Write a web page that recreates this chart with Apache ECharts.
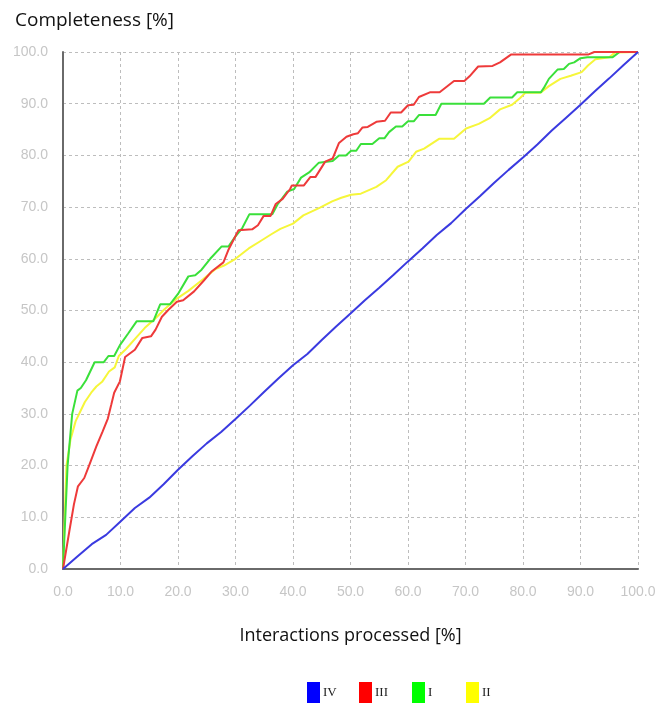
<!DOCTYPE html>
<html>
<head>
<meta charset="utf-8">
<script src="https://cdn.jsdelivr.net/npm/echarts@6/dist/echarts.min.js"></script>
<style>
  html, body { margin: 0; padding: 0; background: #ffffff; }
  #chart { width: 662px; height: 714px; }
</style>
</head>
<body>
<div id="chart"></div>
<script>
// Completeness curves: [interactions processed %, completeness %]
const seriesNames = ['IV', 'III', 'I', 'II'];
const seriesColors = ['#3a3ae0', '#ee3a3a', '#3ae03a', '#f6f63a'];
const legendColors = ['#0000ff', '#ff0000', '#00ff00', '#ffff00'];
const legendLefts = [307, 359, 412, 466];

const curveIV = [
  [0,0],[2.5,2.4],[5,4.8],[7.5,6.6],[10,9.2],[12.5,11.8],[15,13.8],[17.5,16.4],
  [20,19.2],[22.5,21.8],[25,24.3],[27.5,26.5],[30,29],[32.5,31.6],[35,34.3],
  [37.5,36.9],[40,39.4],[42.5,41.6],[45,44.3],[47.5,46.9],[50,49.4],[52.5,52],
  [55,54.4],[57.5,56.9],[60,59.5],[62.5,62],[65,64.6],[67.5,66.9],[70,69.6],
  [72.5,72.1],[75,74.7],[77.5,77.2],[80,79.6],[82.5,82.1],[85,84.8],[87.5,87.3],
  [90,89.8],[92.5,92.4],[95,94.9],[97.5,97.5],[100,100]
];

const curveIII = [
  [0,0],[1.1,7.3],[1.9,12.5],[2.6,16],[3.7,17.6],[4.6,20.2],[5.8,23.7],[6.9,26.6],
  [7.8,29.1],[8.4,31.8],[8.9,34.1],[9.9,36.3],[10.8,41],[12.5,42.4],[13.8,44.7],
  [15.3,45],[16.1,46.3],[17.2,48.8],[18.3,50.1],[19.8,51.7],[20.9,52],[22.8,53.7],
  [24.5,55.8],[25.9,57.6],[27.9,59.3],[28.8,61.8],[30.5,65.5],[32.9,65.7],[33.9,66.5],
  [34.9,68.3],[36.1,68.3],[37,70.6],[38.2,71.6],[39.5,73.5],[39.8,74.2],[41.9,74.2],
  [43,75.8],[43.9,75.8],[45.6,78.8],[46.9,79.4],[48,82.4],[49.3,83.6],[50.5,84.1],
  [51.3,84.3],[52.1,85.4],[53,85.5],[54.5,86.5],[56,86.7],[57,88.3],[58.8,88.3],
  [60,89.7],[61,89.8],[61.9,91.3],[63.8,92.2],[65.5,92.2],[68,94.4],[69.8,94.4],
  [70.7,95.3],[72.2,97.2],[74.7,97.3],[76,98],[77.9,99.5],[91.3,99.5],[92.4,100],[100,100]
];

const curveI = [
  [0,0],[0.4,10],[0.8,20],[1.6,30],[2.5,34.5],[3.1,35],[4,36.5],[5.5,40],[7.1,40],
  [7.9,41.2],[8.9,41.2],[9.9,43.3],[11.3,45.5],[12.8,47.9],[15.7,47.9],[16.9,51.2],
  [18.6,51.2],[20,53.2],[21.8,56.6],[23,56.8],[24.1,57.9],[25.6,60],[27.6,62.4],
  [28.8,62.4],[29.9,64.2],[31.2,66],[32.4,68.6],[36.4,68.6],[37.3,70.5],[39,73],
  [40.2,73.5],[41.4,75.7],[42.8,76.7],[44.5,78.6],[46.9,78.9],[48,80],[49.2,80],
  [50.1,80.9],[51,80.9],[51.8,82.2],[53.8,82.2],[55,83.3],[55.9,83.3],[56.7,84.5],
  [57.9,85.6],[59,85.6],[60,86.6],[61,86.6],[61.9,87.8],[64.8,87.8],[65.8,90],
  [73.2,90],[74.3,91.2],[78.1,91.2],[79,92.2],[83.1,92.2],[83.6,93],[84.5,94.8],
  [86,96.6],[87.1,96.7],[88,97.7],[88.9,98],[90,98.8],[91.2,99],[95.6,99],[96.8,100],[100,100]
];

const curveII = [
  [0,0],[0.3,10],[0.6,20],[1.3,25],[2.2,28.6],[3.8,32.3],[4.9,34.1],[5.8,35.3],
  [6.8,36.2],[8,38.2],[9,39],[9.7,41.2],[11,42.6],[12.6,44.6],[14.2,46.6],[16,48.4],
  [17.7,50.3],[19.8,52.3],[21.8,53.8],[24.3,56],[26.5,58],[28,58.7],[30,60],
  [32.3,62],[34.3,63.4],[36.3,64.8],[37.8,65.8],[40,66.8],[41.8,68.4],[44.7,69.9],
  [46.8,71.1],[48.4,71.8],[50.1,72.4],[51.8,72.6],[54.5,73.9],[56.2,75.2],[58.2,77.8],
  [60.1,78.8],[61.4,80.7],[62.8,81.3],[65.4,83.2],[68,83.2],[70.1,85.2],[72.3,86.1],
  [74.2,87.2],[76,88.9],[78.1,89.8],[79.5,91.1],[80.4,92.1],[83,92.1],[84.5,93.4],
  [86.5,94.8],[88.3,95.4],[90.2,96.1],[91.3,97.4],[92.6,98.6],[95,99],[96,99.9],[100,100]
];

const curves = [curveIV, curveIII, curveI, curveII];

const chart = echarts.init(document.getElementById('chart'), null, { renderer: 'canvas' });

const axisLabelStyle = {
  color: '#c6c6c6',
  fontFamily: 'Liberation Sans',
  fontSize: 14,
  formatter: v => v.toFixed(1)
};
const gridLineStyle = { color: '#bdbdbd', width: 1, type: [3, 3] };

// one legend block per series so the swatches sit at fixed spacing
const legends = seriesNames.map((n, i) => ({
  data: [{ name: n, itemStyle: { color: legendColors[i] } }],
  left: legendLefts[i],
  top: 682,
  padding: 0,
  itemWidth: 13,
  itemHeight: 21,
  icon: 'rect',
  textStyle: { fontFamily: 'Liberation Serif', fontSize: 13, color: '#222', padding: [2, 0, 0, -2] }
}));

chart.setOption({
  animation: false,
  backgroundColor: '#ffffff',
  title: {
    text: 'Completeness [%]',
    left: 10,
    top: 6,
    textStyle: { fontFamily: 'Open Sans', fontWeight: 'normal', fontSize: 19, color: '#111' }
  },
  legend: legends,
  grid: { left: 63, right: 24, top: 52, bottom: 145 },
  xAxis: {
    type: 'value',
    min: 0, max: 100, interval: 10,
    name: 'Interactions processed [%]',
    nameLocation: 'middle',
    nameGap: 58,
    nameTextStyle: { fontFamily: 'Open Sans', fontSize: 18, color: '#111' },
    axisLine: { show: true, onZero: false, lineStyle: { color: '#6a6a6a', width: 2 } },
    axisTick: { show: false },
    axisLabel: Object.assign({ margin: 16 }, axisLabelStyle),
    splitLine: { show: true, lineStyle: gridLineStyle }
  },
  yAxis: {
    type: 'value',
    min: 0, max: 100, interval: 10,
    axisLine: { show: true, lineStyle: { color: '#6a6a6a', width: 2 } },
    axisTick: { show: false },
    axisLabel: Object.assign({ margin: 15 }, axisLabelStyle),
    splitLine: { show: true, lineStyle: gridLineStyle }
  },
  series: seriesNames.map((n, i) => ({
    name: n,
    type: 'line',
    data: curves[i],
    showSymbol: false,
    symbol: 'none',
    lineStyle: { color: seriesColors[i], width: 2 },
    itemStyle: { color: legendColors[i] },
    z: 10 - i
  }))
});
</script>
</body>
</html>
